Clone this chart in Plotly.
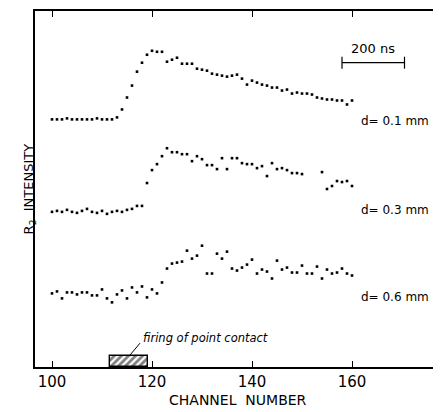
import plotly.graph_objects as go

# ---- data ----
channels = list(range(100, 161))

# d = 0.1 mm
int_01 = [249, 249, 249, 250, 249, 249, 249, 249, 249, 250, 249, 249, 249, 251,
          259, 271, 283, 297, 306, 314, 318, 317, 317, 307, 309, 311, 305, 305,
          305, 300, 299, 298, 295, 294, 293, 292, 293, 294, 290, 284, 288, 286,
          284, 283, 281, 281, 278, 279, 275, 276, 275, 275, 274, 271, 270, 269,
          269, 268, 268, 264, 268]

# d = 0.3 mm
int_03 = [156, 157, 156, 158, 156, 155, 157, 159, 156, 155, 157, 154, 156, 157,
          156, 158, 159, 162, 162, 185, 198, 204, 212, 220, 216, 216, 214, 214,
          207, 212, 209, 203, 203, 199, 210, 199, 210, 210, 205, 204, 204, 200,
          202, 192, 205, 199, 200, 198, 195, 195, 194, None, None, None, 196,
          179, 182, 187, 186, 187, 182]

# d = 0.6 mm
int_06 = [74, 76, 69, 75, 75, 73, 75, 75, 72, 72, 78, 69, 65, 73, 77, 69, 80,
          75, 81, 70, 78, 74, 85, 99, 104, 105, 106, 117, 109, 112, 122, 94, 94,
          114, 109, 116, 99, 97, 100, 103, 108, 94, 98, 96, 89, 107, 98, 100, 95,
          95, 102, 94, 94, 101, 89, 98, 94, 95, 99, 94, 92]

series_labels = ["d= 0.1 mm", "d= 0.3 mm", "d= 0.6 mm"]
label_levels = [247, 158, 70]

firing_start = 111.6
firing_end = 119.2
firing_height = 11

scale_start = 158.0
scale_end = 170.5
scale_level = 306

x_ticks = [100, 120, 140, 160]

FONT = "DejaVu Sans"

# ---- figure ----
fig = go.Figure()

for vals in (int_01, int_03, int_06):
    fig.add_trace(go.Scatter(
        x=channels, y=vals, mode="markers",
        marker=dict(symbol="square", size=2.6, color="black"),
        showlegend=False, hoverinfo="skip"))

# hatched "firing of point contact" box
fig.add_trace(go.Bar(
    x=[(firing_start + firing_end) / 2], y=[firing_height],
    width=[firing_end - firing_start], base=0,
    marker=dict(color="white", line=dict(color="black", width=1.4),
                pattern=dict(shape="/", fgcolor="black", size=5, solidity=0.55)),
    showlegend=False, hoverinfo="skip"))

# 200 ns scale bar
fig.add_shape(type="line", x0=scale_start, x1=scale_end, y0=scale_level, y1=scale_level,
              line=dict(color="black", width=1.3))
for xv in (scale_start, scale_end):
    fig.add_shape(type="line", x0=xv, x1=xv, y0=scale_level - 6, y1=scale_level + 6,
                  line=dict(color="black", width=1.2))
fig.add_annotation(x=(scale_start + scale_end) / 2, y=scale_level + 5, text="200 ns",
                   showarrow=False, yanchor="bottom",
                   font=dict(size=13, color="black", family=FONT))

# series labels
for txt, lv in zip(series_labels, label_levels):
    fig.add_annotation(x=175.8, y=lv, text=txt, showarrow=False,
                       xanchor="right", yanchor="middle",
                       font=dict(size=12, color="black", family=FONT))

# firing label and leader line
fig.add_annotation(x=117.8, y=29, text="<i>firing of point contact</i>", showarrow=False,
                   xanchor="left", yanchor="middle",
                   font=dict(size=11.5, color="black", family=FONT))
fig.add_shape(type="line", x0=117.6, x1=115.6, y0=24, y1=12,
              line=dict(color="black", width=1))

# axis titles
fig.add_annotation(xref="paper", yref="paper", x=-0.04, y=0.5,
                   text="R<sub>2</sub>  INTENSITY",
                   textangle=-90, showarrow=False,
                   font=dict(size=13, color="black", family=FONT))
fig.add_annotation(xref="paper", yref="paper", x=0.505, y=-0.092, text="CHANNEL  NUMBER",
                   showarrow=False, yanchor="middle",
                   font=dict(size=14, color="black", family=FONT))

fig.update_layout(
    width=433, height=404,
    margin=dict(l=27, r=4, t=1, b=45),
    plot_bgcolor="white", paper_bgcolor="white",
    bargap=0,
    xaxis=dict(range=[96.6, 177], tickvals=x_ticks, ticktext=[str(v) for v in x_ticks],
               ticks="inside", ticklen=6, tickwidth=1.2, tickcolor="black", showgrid=False,
               zeroline=False, showline=True, linecolor="black", linewidth=1.5,
               mirror="ticks",
               tickfont=dict(size=15, color="black", family=FONT)),
    yaxis=dict(range=[0, 358], showticklabels=False, ticks="", showgrid=False,
               zeroline=False, showline=True, linecolor="black", linewidth=1.5,
               mirror=True),
)

fig.write_html("out.html")
